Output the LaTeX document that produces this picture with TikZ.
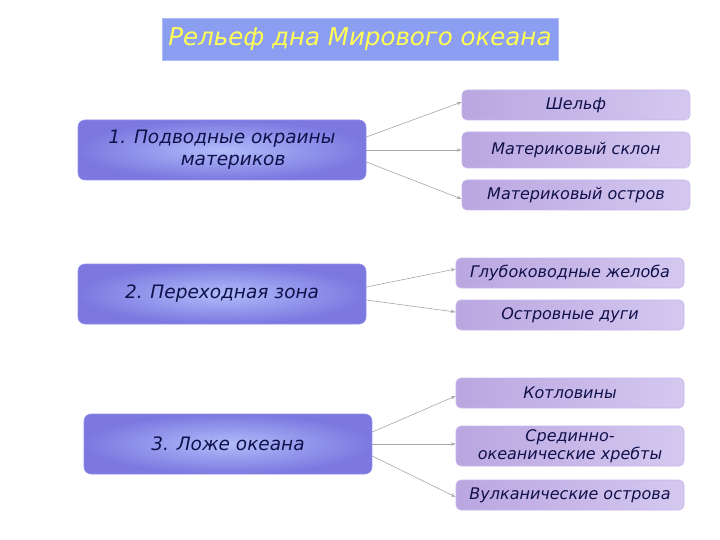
\documentclass[tikz,border=0pt]{standalone}
\usepackage{fontspec}
\setmainfont{DejaVu Sans}
\usetikzlibrary{arrows.meta,calc}
\definecolor{titlefill}{HTML}{8C9EF2}
\definecolor{titletext}{HTML}{FFFF55}
\definecolor{leftin}{HTML}{B0BCFA}
\definecolor{leftout}{HTML}{7C78E0}
\definecolor{leftborder}{HTML}{9490EA}
\definecolor{rightl}{HTML}{BAA6E0}
\definecolor{rightm}{HTML}{C0AEE4}
\definecolor{rightr}{HTML}{D4C8F0}
\definecolor{rightborder}{HTML}{C6B6EA}
\definecolor{navytext}{HTML}{10104A}
\definecolor{linegray}{HTML}{A8A8A8}
\tikzset{
  titlebox/.style={fill=titlefill, draw=titlefill!70!white, line width=0.6pt,
    minimum width=396pt, minimum height=42pt, inner sep=0pt,
    text=titletext, font=\itshape\fontsize{24.5}{27}\selectfont},
  leftbox/.style={rounded corners=7pt, inner color=leftin, outer color=leftout,
    draw=leftborder, line width=0.6pt, minimum width=288pt, minimum height=60pt,
    inner sep=0pt, text=navytext, align=center,
    font=\itshape\fontsize{18.5}{22}\selectfont},
  rightbox/.style={rounded corners=5pt, left color=rightl, middle color=rightm, right color=rightr,
    draw=rightborder, line width=0.6pt, minimum width=228pt, minimum height=30pt,
    inner sep=0pt, text=navytext, align=center,
    font=\itshape\fontsize{16}{17.5}\selectfont},
  conn/.style={draw=linegray, line width=0.6pt,
    -{Stealth[length=5pt,width=3.5pt,open,fill=white]}}
}
\begin{document}
\begin{tikzpicture}[x=1pt,y=-1pt]
\useasboundingbox[fill=white] (0,0) rectangle (720,540);
\node[titlebox] (title) at (360,39) {Рельеф дна Мирового океана};

\node[leftbox] (l1) at (222,150) {1. Подводные окраины\\\hspace*{1.2em}материков};
\node[leftbox] (l2) at (222,294) {2. Переходная зона};
\node[leftbox] (l3) at (228,444) {3. Ложе океана};

\node[rightbox] (r1) at (576,105) {Шельф};
\node[rightbox, minimum height=36pt] (r2) at (576,150) {Материковый склон};
\node[rightbox] (r3) at (576,195) {Материковый остров};
\node[rightbox] (r4) at (570,273) {Глубоководные желоба};
\node[rightbox] (r5) at (570,315) {Островные дуги};
\node[rightbox] (r6) at (570,393) {Котловины};
\node[rightbox, minimum height=40pt] (r7) at (570,446) {Срединно-\\океанические хребты};
\node[rightbox] (r8) at (570,495) {Вулканические острова};

\draw[conn] ([yshift=13pt]l1.east) -- ([yshift=3pt]r1.west);
\draw[conn] (l1.east) -- (r2.west);
\draw[conn] ([yshift=-12pt]l1.east) -- ([yshift=-4pt]r3.west);
\draw[conn] ([yshift=7pt]l2.east) -- ([yshift=4pt]r4.west);
\draw[conn] ([yshift=-6pt]l2.east) -- ([yshift=3pt]r5.west);
\draw[conn] ([yshift=12pt]l3.east) -- ([yshift=-3pt]r6.west);
\draw[conn] (l3.east) -- ([yshift=2pt]r7.west);
\draw[conn] ([yshift=-12pt]l3.east) -- ([yshift=-2pt]r8.west);
\end{tikzpicture}
\end{document}
